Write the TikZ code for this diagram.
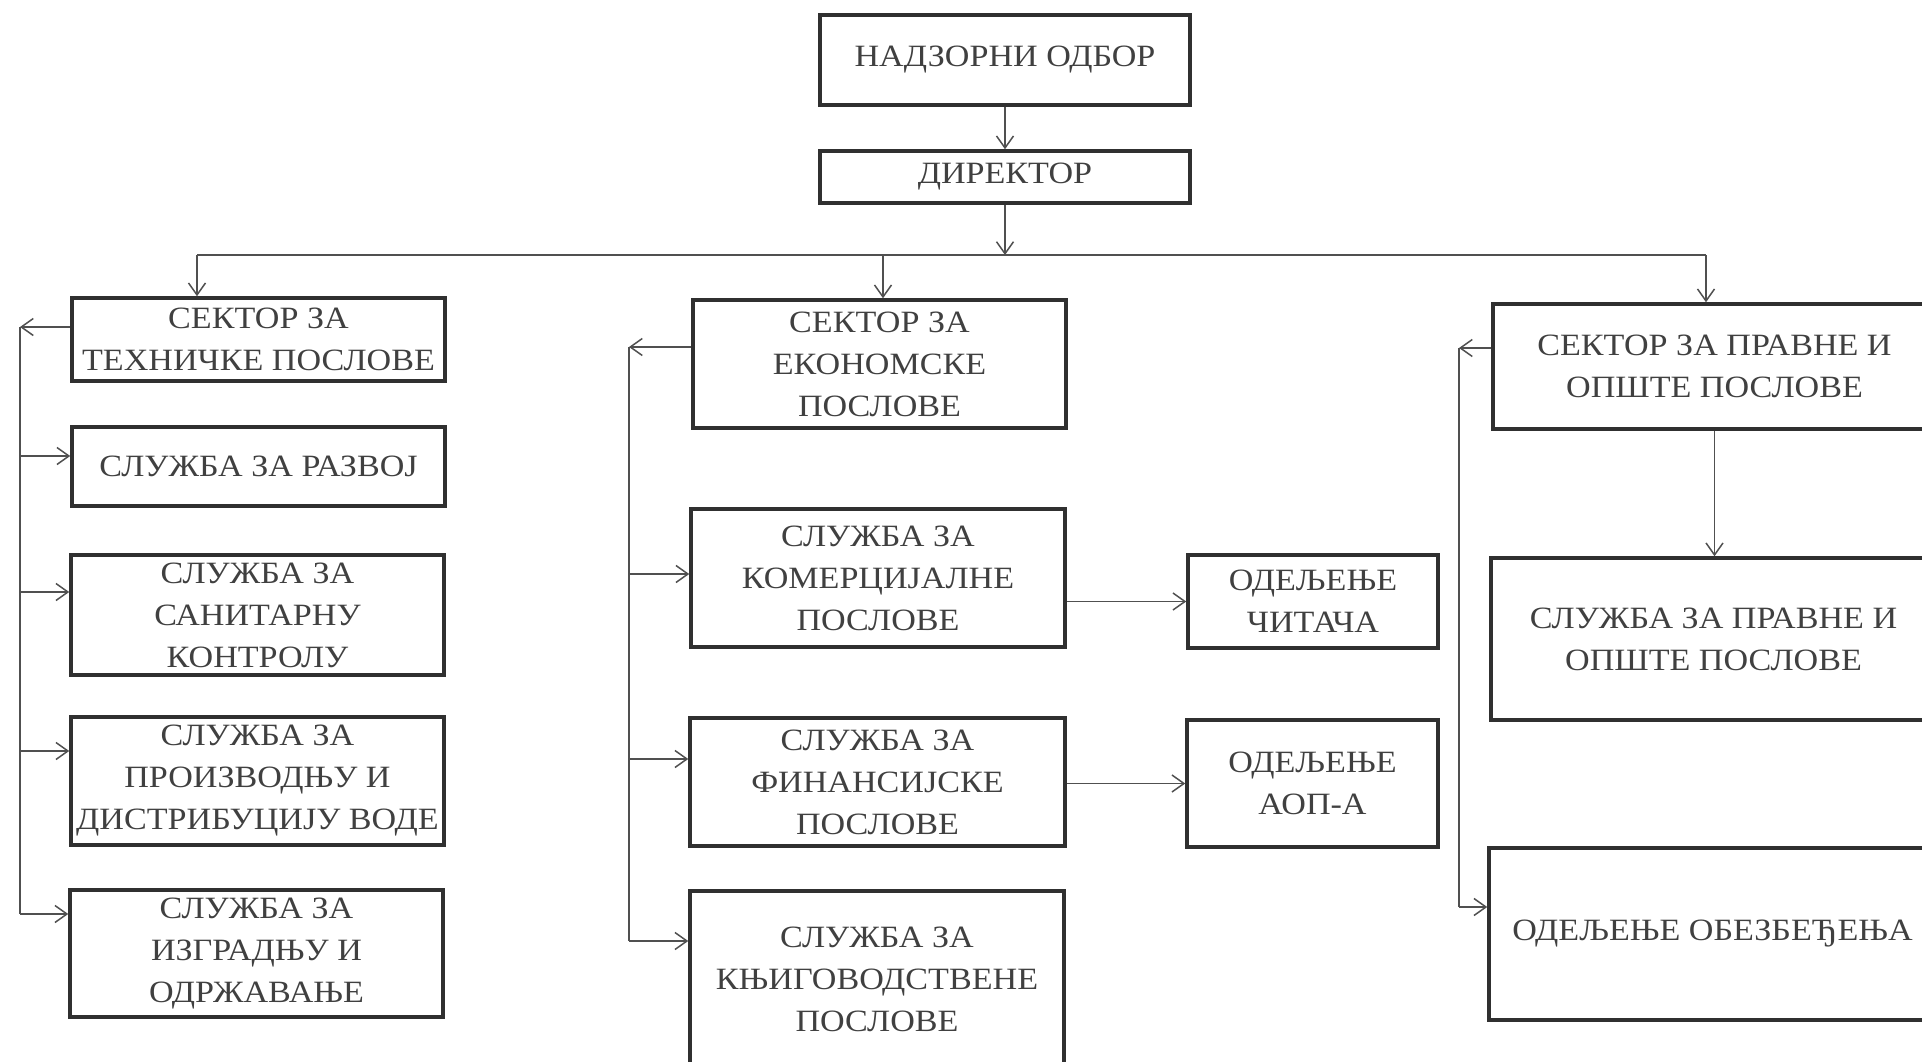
\documentclass[tikz,border=0pt]{standalone}
\usepackage{fontspec}
\setmainfont{Liberation Serif}[FakeStretch=1.1]
\usetikzlibrary{arrows.meta}
\definecolor{txt}{HTML}{404040}
\definecolor{brd}{HTML}{303030}
\definecolor{lin}{HTML}{505050}
\begin{document}
\begin{tikzpicture}[x=1pt,y=-1pt,
  box/.style={draw=brd,line width=3.5pt,inner sep=0pt,align=center,text=txt,
    font=\fontsize{31}{42}\selectfont},
  conn/.style={draw=lin,line width=1.5pt},
  arr/.style={conn,-{Straight Barb[length=12pt,width=17pt,line width=1.5pt]}}]
\useasboundingbox (0,0) rectangle (1922,1062);
\clip (0,0) rectangle (1922,1062);
% top
\node[box,minimum width=370pt,minimum height=90pt] (top) at (1005,60) {НАДЗОРНИ ОДБОР};
\node[box,minimum width=370pt,minimum height=52pt] (dir) at (1005,177) {ДИРЕКТОР};
% left column
\node[box,minimum width=373pt,minimum height=83pt] (L0) at (258.5,339.5) {СЕКТОР ЗА\\ТЕХНИЧКЕ ПОСЛОВЕ};
\node[box,minimum width=373pt,minimum height=79pt] (L1) at (258.5,466.5) {СЛУЖБА ЗА РАЗВОЈ};
\node[box,minimum width=373pt,minimum height=120pt] (L2) at (257.5,615) {СЛУЖБА ЗА\\САНИТАРНУ\\КОНТРОЛУ};
\node[box,minimum width=373pt,minimum height=128pt] (L3) at (257.5,781) {СЛУЖБА ЗА\\ПРОИЗВОДЊУ И\\ДИСТРИБУЦИЈУ ВОДЕ};
\node[box,minimum width=373pt,minimum height=127pt] (L4) at (256.5,953.5) {СЛУЖБА ЗА\\ИЗГРАДЊУ И\\ОДРЖАВАЊЕ};
% middle column
\node[box,minimum width=373pt,minimum height=128pt] (M0) at (879.5,364) {СЕКТОР ЗА\\ЕКОНОМСКЕ\\ПОСЛОВЕ};
\node[box,minimum width=374pt,minimum height=138pt] (M1) at (878,578) {СЛУЖБА ЗА\\КОМЕРЦИЈАЛНЕ\\ПОСЛОВЕ};
\node[box,minimum width=375pt,minimum height=128pt] (M2) at (877.5,782) {СЛУЖБА ЗА\\ФИНАНСИЈСКЕ\\ПОСЛОВЕ};
\node[box,minimum width=374pt,minimum height=176pt] (M3) at (877,979) {СЛУЖБА ЗА\\КЊИГОВОДСТВЕНЕ\\ПОСЛОВЕ};
\node[box,minimum width=250pt,minimum height=93pt] (chit) at (1313,601.5) {ОДЕЉЕЊЕ\\ЧИТАЧА};
\node[box,minimum width=251pt,minimum height=127pt] (aop) at (1312.5,783.5) {ОДЕЉЕЊЕ\\АОП-А};
% right column
\node[box,minimum width=443pt,minimum height=125pt] (R0) at (1714.5,366.5) {СЕКТОР ЗА ПРАВНЕ И\\ОПШТЕ ПОСЛОВЕ};
\node[box,minimum width=445pt,minimum height=162pt] (R1) at (1713.5,639) {СЛУЖБА ЗА ПРАВНЕ И\\ОПШТЕ ПОСЛОВЕ};
\node[box,minimum width=447pt,minimum height=172pt] (R2) at (1712.5,934) {ОДЕЉЕЊЕ ОБЕЗБЕЂЕЊА};
% main connectors
\coordinate (bc) at (1005,255);
\coordinate (bl) at (197,255);
\coordinate (bm) at (883,255);
\coordinate (br) at (1706,255);
\draw[arr] (top) -- (dir);
\draw[arr] (dir) -- (bc);
\draw[conn] (bl) -- (br);
\draw[arr] (bl) -- (bl |- L0.north);
\draw[arr] (bm) -- (bm |- M0.north);
\draw[arr] (br) -- (br |- R0.north);
% left bus
\coordinate (lb) at (20,327);
\coordinate (l1) at (20,456);
\coordinate (l2) at (20,592);
\coordinate (l3) at (20,751);
\coordinate (l4) at (20,914);
\draw[arr] (lb -| L0.west) -- (lb);
\draw[conn] (lb) -- (l4);
\draw[arr] (l1) -- (l1 -| L1.west);
\draw[arr] (l2) -- (l2 -| L2.west);
\draw[arr] (l3) -- (l3 -| L3.west);
\draw[arr] (l4) -- (l4 -| L4.west);
% middle bus
\coordinate (mb) at (629,347);
\coordinate (m1) at (629,574);
\coordinate (m2) at (629,759);
\coordinate (m3) at (629,941);
\draw[arr] (mb -| M0.west) -- (mb);
\draw[conn] (mb) -- (m3);
\draw[arr] (m1) -- (m1 -| M1.west);
\draw[arr] (m2) -- (m2 -| M2.west);
\draw[arr] (m3) -- (m3 -| M3.west);
\draw[arr] (M1.east |- chit.west) -- (chit.west);
\draw[arr] (M2.east |- aop.west) -- (aop.west);
% right bus
\coordinate (rb) at (1459,348);
\coordinate (r2) at (1459,907);
\draw[arr] (rb -| R0.west) -- (rb);
\draw[conn] (rb) -- (r2);
\draw[arr] (r2) -- (r2 -| R2.west);
\draw[arr] (R0.south) -- (R0.south |- R1.north);
\end{tikzpicture}
\end{document}
